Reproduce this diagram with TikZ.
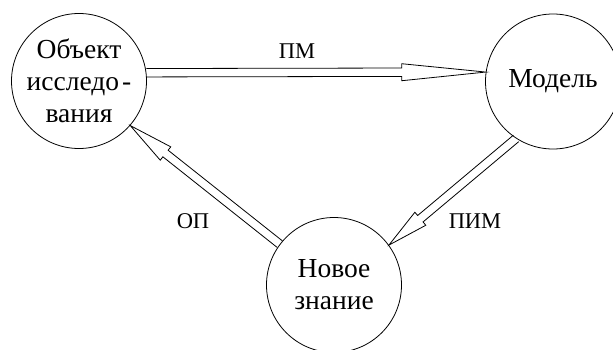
\documentclass[tikz,border=0pt]{standalone}
\usepackage{fontspec}
\setmainfont{Liberation Serif}
\usetikzlibrary{calc}
\begin{document}
\begin{tikzpicture}[x=1pt,y=-1pt,
  state/.style={draw,circle,line width=0.8pt,minimum size=135pt,inner sep=0pt,align=center,font=\fontsize{27.5}{32}\selectfont},
  lbl/.style={font=\fontsize{22.5}{26}\selectfont,inner sep=0pt},
  arrowline/.style={line width=0.8pt,line join=miter}]
\useasboundingbox (0,0) rectangle (613,349);
\node[state] (obj) at (79,81) {Объект\\исследо\kern3pt-\\вания};
\node[state] (mod) at (553,81.5) {Модель};
\node[state] (new) at (334,285) {Новое\\знание};
\newcommand{\dblarrow}[3]{%
  \coordinate (nk) at ($(#2)!#3!(#1)$);
  \draw[arrowline] ($(#1)!4.2pt!90:(#2)$) -- ($(nk)!4.2pt!90:(#2)$) -- ($(nk)!8.5pt!90:(#2)$) -- (#2)
    -- ($(nk)!8.5pt!-90:(#2)$) -- ($(nk)!4.2pt!-90:(#2)$) -- ($(#1)!4.2pt!-90:(#2)$);}
\coordinate (pmA) at (obj.7.2);
\coordinate (pmB) at (mod.172.7);
\coordinate (opA) at (new.143.7);
\coordinate (opB) at (obj.-41.9);
\coordinate (pimA) at (mod.237.6);
\coordinate (pimB) at (new.36.4);
\dblarrow{pmA}{pmB}{84pt}
\dblarrow{opA}{opB}{45pt}
\dblarrow{pimA}{pimB}{41pt}
\node[lbl] (lpm) at (297,51) {ПМ};
\node[lbl] (lop) at (193,221) {ОП};
\node[lbl] (lpim) at (475,221) {ПИМ};
\end{tikzpicture}
\end{document}
